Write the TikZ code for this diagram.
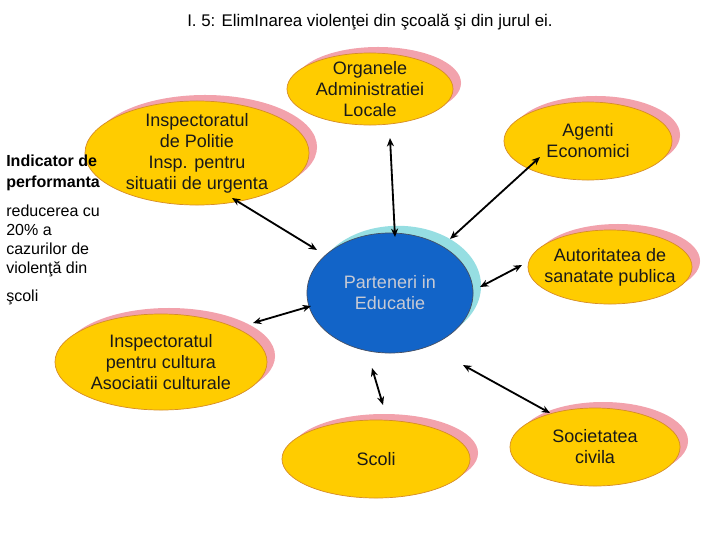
\documentclass[tikz,border=0pt]{standalone}
\usepackage{fontspec}
\setmainfont{Liberation Sans}
\usetikzlibrary{shapes.geometric,shadows,arrows.meta,calc}

\definecolor{ovalfill}{RGB}{255,204,0}
\definecolor{ovalline}{RGB}{214,140,40}
\definecolor{ovalshade}{RGB}{242,162,172}
\definecolor{hubfill}{RGB}{18,100,200}
\definecolor{hubline}{RGB}{70,80,100}
\definecolor{hubshade}{RGB}{150,222,226}
\definecolor{hubtext}{RGB}{200,202,212}

\begin{document}
\begin{tikzpicture}[x=0.025cm,y=-0.025cm,
        partner/.style={ellipse, fill=ovalfill, draw=ovalline, line width=0.5pt, inner sep=-0.3cm,
            align=center, text=black!90, font=\fontsize{12.8}{15}\selectfont,
            drop shadow={shadow xshift=0.2cm, shadow yshift=0.15cm, fill=ovalshade, opacity=1}},
        hub/.style={ellipse, fill=hubfill, draw=hubline, line width=0.5pt, inner sep=-0.3cm,
            align=center, text=hubtext, font=\fontsize{12.8}{15}\selectfont,
            drop shadow={shadow xshift=0.2cm, shadow yshift=0.18cm, fill=hubshade, opacity=1}},
        link/.style={{Stealth[length=6pt,width=5pt]}-{Stealth[length=6pt,width=5pt]}, line width=1.3pt}]
        \useasboundingbox (0,0) rectangle (720,540);

        \node[font=\fontsize{12}{14}\selectfont] (title) at (370,22) {I. 5: ElimInarea violenţei din şcoală şi din jurul ei.};

        \node[partner, minimum width=4.15cm, minimum height=1.8cm] (org) at (370,89) {Organele\\Administratiei\\Locale};
        \node[partner, minimum width=5.6cm, minimum height=2.6cm] (pol) at (197,153) {Inspectoratul\\de Politie\\Insp. pentru\\situatii de urgenta};
        \node[partner, minimum width=4.2cm, minimum height=1.95cm] (agent) at (588,141) {Agenti\\Economici};
        \node[hub, minimum width=4.15cm, minimum height=3cm] (part) at (390,293) {Parteneri in\\Educatie};
        \node[partner, minimum width=4.1cm, minimum height=1.85cm] (aut) at (610,267) {Autoritatea de\\sanatate publica};
        \node[partner, minimum width=5.3cm, minimum height=2.4cm] (cult) at (161,362) {Inspectoratul\\pentru cultura\\Asociatii culturale};
        \node[partner, minimum width=4.7cm, minimum height=1.95cm] (scoli) at (376,459) {Scoli};
        \node[partner, minimum width=4.25cm, minimum height=1.95cm] (soc) at (595,447) {Societatea\\civila};

        \node[anchor=west, align=left, inner sep=0pt, font=\bfseries\fontsize{11.4}{15}\selectfont] (ind) at (6,173) {Indicator de\\performanta};
        \node[anchor=north west, align=left, inner sep=0pt, font=\fontsize{11.4}{13.5}\selectfont] (goal) at (6,205) {reducerea cu\\20\% a\\cazurilor de\\violenţă din\\[6pt]şcoli};

        \draw[link] ($(org)+(20,49)$) -- ($(part)+(5,-56)$);
        \draw[link] ($(pol)+(35,45)$) -- ($(part)+(-73,-43)$);
        \draw[link] ($(agent)+(-48,16)$) -- ($(part)+(60,-54)$);
        \draw[link] ($(aut)+(-88,-2)$) -- ($(part)+(90,-6)$);
        \draw[link] ($(cult)+(92,-39)$) -- ($(part)+(-79,13)$);
        \draw[link] ($(part)+(-18,75)$) -- ($(scoli)+(7,-54)$);
        \draw[link] ($(part)+(73,72)$) -- ($(soc)+(-45,-34)$);
    \end{tikzpicture}
\end{document}
